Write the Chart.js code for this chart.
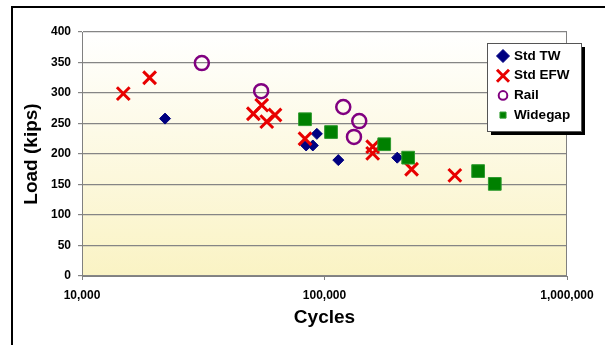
<!DOCTYPE html>
<html>
<head>
<meta charset="utf-8">
<script src="https://cdn.jsdelivr.net/npm/chart.js@4.4.1/dist/chart.umd.min.js"></script>
<style>
  body { margin: 0; background: #fff; }
  canvas { display: block; }
</style>
</head>
<body>
<canvas id="fatigueChart" width="605" height="345"></canvas>
<script>
// values (cycles, load in kips)
const twCycles = [22000, 84000, 89500, 93000, 114000, 199500];
const twLoad = [258, 214, 214, 233, 190, 194];

const efwCycles = [14800, 19000, 50900, 55100, 57800, 62500, 83100, 158000, 158000, 228600, 344700];
const efwLoad = [299, 325, 266, 280, 253, 264, 225, 212, 201, 175, 165];

const railCycles = [31200, 54800, 119500, 139100, 132300];
const railLoad = [349, 303, 277, 254, 228];

const wgCycles = [83100, 106400, 176300, 221300, 430000, 503700];
const wgLoad = [257, 236, 216, 194, 172, 151];

const xTicks = [10000, 100000, 1000000];

const FONT = "'Liberation Sans', Arial, sans-serif";

function toPoints(xs, ys) {
    return xs.map((x, i) => ({ x: x, y: ys[i] }));
}

function withCommas(v) {
    return String(v).replace(/\B(?=(\d{3})+(?!\d))/g, ',');
}

// fond dégradé de la zone du graphe + cadre extérieur
const backgroundPlugin = {
    id: 'plotBackground',
    beforeDraw(chart) {
        const { ctx, chartArea: a } = chart;
        ctx.save();
        const g = ctx.createLinearGradient(0, a.top, 0, a.bottom);
        g.addColorStop(0, '#FFFFFF');
        g.addColorStop(1, '#FAF3C4');
        ctx.fillStyle = g;
        ctx.fillRect(a.left, a.top, a.right - a.left, a.bottom - a.top);

        ctx.strokeStyle = '#000';
        ctx.lineWidth = 2;
        ctx.beginPath();
        ctx.moveTo(12, 345);
        ctx.lineTo(12, 7);
        ctx.lineTo(605, 7);
        ctx.stroke();
        ctx.restore();
    },
    beforeDatasetsDraw(chart) {
        const { ctx, chartArea: a } = chart;
        ctx.save();
        ctx.strokeStyle = '#808080';
        ctx.lineWidth = 1;
        ctx.beginPath();
        ctx.moveTo(a.right - 0.5, a.top);
        ctx.lineTo(a.right - 0.5, a.bottom);
        ctx.stroke();
        ctx.restore();
    }
};

// légende encadrée avec ombre
const legendRadius = [6.5, 8.5, 4.3, 4.3];
const legendBorder = [1, 3, 2, 1];
const legendPlugin = {
    id: 'boxLegend',
    afterDraw(chart) {
        const ctx = chart.ctx;
        const x = 487, y = 43, w = 94, h = 88;
        ctx.save();
        ctx.fillStyle = '#000';
        ctx.fillRect(x + 4, y + 4, w, h);
        ctx.fillStyle = '#fff';
        ctx.fillRect(x, y, w, h);
        ctx.strokeStyle = '#555';
        ctx.lineWidth = 1;
        ctx.strokeRect(x + 0.5, y + 0.5, w, h);

        chart.data.datasets.forEach((ds, i) => {
            const cy = y + 13 + i * 19.7;
            ctx.fillStyle = ds.backgroundColor;
            ctx.strokeStyle = ds.borderColor;
            ctx.lineWidth = legendBorder[i];
            Chart.helpers.drawPoint(ctx, {
                pointStyle: ds.pointStyle,
                radius: legendRadius[i],
                borderWidth: legendBorder[i],
                rotation: 0
            }, x + 16, cy);
            ctx.fillStyle = '#000';
            ctx.font = 'bold 13.5px ' + FONT;
            ctx.textBaseline = 'middle';
            ctx.textAlign = 'left';
            ctx.fillText(ds.label, x + 27, cy);
        });
        ctx.restore();
    }
};

new Chart(document.getElementById('fatigueChart'), {
    type: 'scatter',
    data: {
        datasets: [
            {
                label: 'Std TW',
                data: toPoints(twCycles, twLoad),
                pointStyle: 'rectRot',
                radius: 5.5,
                backgroundColor: '#000080',
                borderColor: '#000080',
                borderWidth: 1,
                order: 4
            },
            {
                label: 'Std EFW',
                data: toPoints(efwCycles, efwLoad),
                pointStyle: 'crossRot',
                radius: 9,
                backgroundColor: '#E80000',
                borderColor: '#E80000',
                borderWidth: 3,
                order: 3
            },
            {
                label: 'Rail',
                data: toPoints(railCycles, railLoad),
                pointStyle: 'circle',
                radius: 7,
                backgroundColor: 'rgba(0,0,0,0)',
                borderColor: '#800080',
                borderWidth: 2.5,
                order: 2
            },
            {
                label: 'Widegap',
                data: toPoints(wgCycles, wgLoad),
                pointStyle: 'rect',
                radius: 9,
                backgroundColor: '#008000',
                borderColor: '#2E9A2E',
                borderWidth: 1,
                order: 1
            }
        ]
    },
    options: {
        responsive: false,
        animation: false,
        devicePixelRatio: 1,
        layout: { padding: { top: 32, right: 38, left: 0, bottom: 0 } },
        plugins: {
            legend: { display: false },
            tooltip: { enabled: false }
        },
        scales: {
            x: {
                type: 'logarithmic',
                min: 10000,
                max: 1000000,
                afterBuildTicks: (s) => { s.ticks = xTicks.map(v => ({ value: v })); },
                afterFit: (s) => { s.height = 69; s.paddingLeft = 0; s.paddingRight = 0; },
                grid: { drawOnChartArea: false, drawTicks: true, tickLength: 4, color: '#808080' },
                border: { display: true, color: '#808080', width: 1 },
                ticks: {
                    callback: (v) => withCommas(v),
                    font: { family: FONT, size: 12, weight: 'bold' },
                    color: '#000',
                    padding: 8,
                    maxRotation: 0,
                    autoSkip: false
                },
                title: {
                    display: true,
                    text: 'Cycles',
                    font: { family: FONT, size: 19, weight: 'bold' },
                    color: '#000',
                    padding: { top: 0, bottom: 16 }
                }
            },
            y: {
                min: 0,
                max: 400,
                afterFit: (s) => { s.width = 82; s.paddingTop = 0; s.paddingBottom = 0; },
                grid: { color: '#858585', lineWidth: 1.2, tickLength: 4 },
                border: { display: true, color: '#808080', width: 1 },
                ticks: {
                    stepSize: 50,
                    font: { family: FONT, size: 12, weight: 'bold' },
                    color: '#000',
                    padding: 7
                },
                title: {
                    display: true,
                    text: 'Load (kips)',
                    font: { family: FONT, size: 19, weight: 'bold' },
                    color: '#000',
                    padding: { top: 20, bottom: 0 }
                }
            }
        }
    },
    plugins: [backgroundPlugin, legendPlugin]
});
</script>
</body>
</html>
